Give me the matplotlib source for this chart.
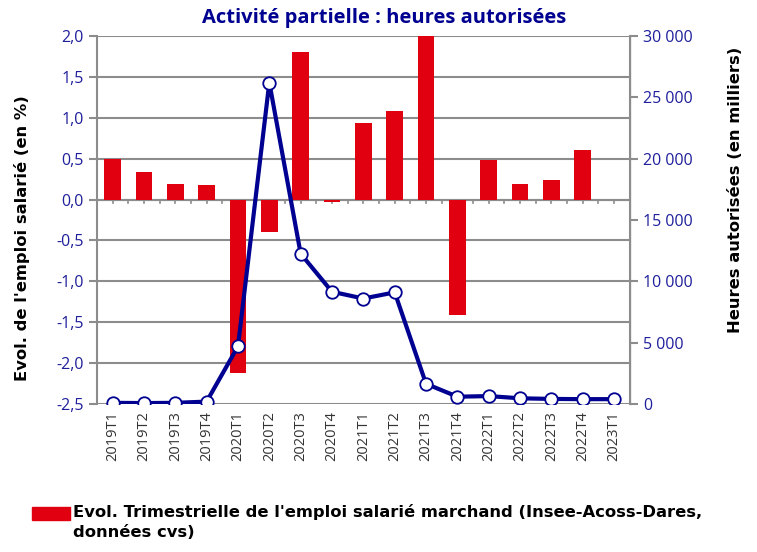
import matplotlib
matplotlib.use("Agg")
import matplotlib.pyplot as plt
from matplotlib.patches import Rectangle
from matplotlib.ticker import FuncFormatter
import numpy as np

# --- data ---
quarters = ["2019T1", "2019T2", "2019T3", "2019T4", "2020T1", "2020T2", "2020T3", "2020T4",
            "2021T1", "2021T2", "2021T3", "2021T4", "2022T1", "2022T2", "2022T3", "2022T4", "2023T1"]
emploi_evol = [0.50, 0.34, 0.19, 0.18, -2.12, -0.40, 1.80, -0.03,
               0.93, 1.08, 2.60, -1.41, 0.48, 0.19, 0.24, 0.61, np.nan]
heures_autorisees = [100, 80, 100, 200, 4700, 26200, 12250, 9150,
                     8600, 9100, 1650, 600, 650, 470, 420, 400, 400]

RED = "#e1000f"
NAVY = "#000091"
TICK_BLUE = "#1f1f9c"
GRID = "#8c8c8c"
W, H = 757, 552

plt.rcParams["font.family"] = ["Open Sans", "DejaVu Sans"]

fig = plt.figure(figsize=(7.57, 5.52), dpi=100)
ax = fig.add_axes([0.128, 0.268, 0.704, 0.667])
x = np.arange(len(quarters))

ax.bar(x, emploi_evol, width=0.53, color=RED, zorder=2)
ax.set_ylim(-2.5, 2.0)
ax.set_xlim(-0.5, len(quarters) - 0.5)
ax.set_yticks(np.arange(-2.5, 2.01, 0.5))
ax.yaxis.set_major_formatter(FuncFormatter(lambda v, p: f"{v:.1f}".replace(".", ",")))
ax.grid(axis="y", color=GRID, lw=1.5, zorder=0)
ax.set_axisbelow(True)

# zero line with small ticks
ax.axhline(0, color=GRID, lw=1.5, zorder=1)
for xx in np.arange(-0.5, len(quarters), 0.5):
    ax.plot([xx, xx], [0, -0.04], color=GRID, lw=1.2, zorder=1)

ax.set_xticks(x)
ax.set_xticklabels(quarters, rotation=90, fontsize=10.5, color="#333333")
ax.tick_params(axis="x", length=0, pad=5)
ax.tick_params(axis="y", colors=TICK_BLUE, labelsize=11.5, length=6, color=GRID, width=1.5)
for s in ["top", "bottom"]:
    ax.spines[s].set_visible(False)
ax.spines["left"].set_color(GRID)
ax.spines["left"].set_linewidth(1.5)

ax2 = ax.twinx()
ax2.plot(x, heures_autorisees, color=NAVY, lw=3, marker="o", markersize=9,
         markerfacecolor="white", markeredgecolor=NAVY, markeredgewidth=1.3, zorder=3)
ax2.set_ylim(0, 30000)
ax2.set_yticks(np.arange(0, 30001, 5000))
ax2.yaxis.set_major_formatter(FuncFormatter(lambda v, p: f"{int(v):,}".replace(",", " ")))
ax2.tick_params(axis="y", colors=TICK_BLUE, labelsize=11.5, length=6, color=GRID, width=1.5)
for s in ["top", "bottom", "left"]:
    ax2.spines[s].set_visible(False)
ax2.spines["right"].set_color(GRID)
ax2.spines["right"].set_linewidth(1.5)

# axis titles (placed as in the source, not centred on the axes)
fig.text(22 / W, 1 - 238 / H, "Evol. de l'emploi salarié (en %)", rotation=90,
         ha="center", va="center", fontsize=11.8, fontweight="bold", family="DejaVu Sans")
fig.text(736 / W, 1 - 190 / H, "Heures autorisées (en milliers)", rotation=90,
         ha="center", va="center", fontsize=11.8, fontweight="bold", family="DejaVu Sans")

fig.text(0.508, 0.968, "Activité partielle : heures autorisées", ha="center", va="center",
         fontsize=14.5, fontweight="bold", color=NAVY)

# legend (drawn by hand so the key lines up with the first text line)
fig.add_artist(Rectangle((32 / W, 1 - 520 / H), 38 / W, 13 / H,
                         transform=fig.transFigure, color=RED))
fig.text(73 / W, 1 - 504 / H,
         "Evol. Trimestrielle de l'emploi salarié marchand (Insee-Acoss-Dares,\ndonnées cvs)",
         ha="left", va="top", fontsize=11.8, fontweight="bold", family="DejaVu Sans",
         linespacing=1.45, transform=fig.transFigure)

fig.savefig("out.png", dpi=100)
